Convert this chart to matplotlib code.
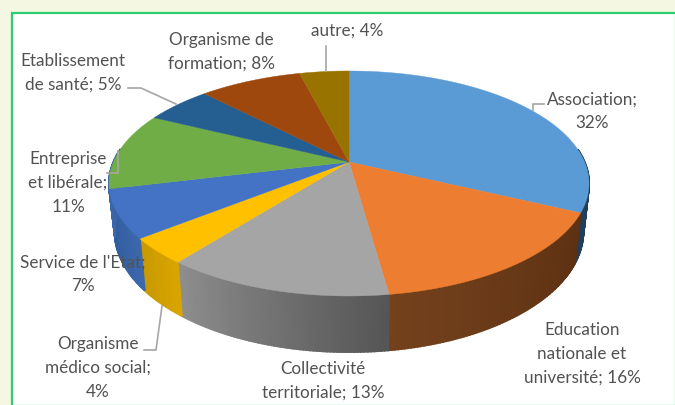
import numpy as np
import matplotlib
matplotlib.use("Agg")
import matplotlib.pyplot as plt
from matplotlib.colors import to_rgb

categories = ["Association", "Education nationale et université", "Collectivité territoriale",
              "Organisme médico social", "Service de l'Etat", "Entreprise et libérale",
              "Etablissement de santé", "Organisme de formation", "autre"]
values = [32.1, 15.7, 12.8, 3.7, 6.9, 11.1, 5.4, 8.3, 4.0]
top_colors = ["#5B9BD5", "#ED7D31", "#A5A5A5", "#FFC000", "#4472C4", "#70AD47", "#255E91", "#9E480E", "#997300"]
# wall colours: at the start and end of each wedge (clockwise)
wall_start = ["#1F3F5C", "#5C3012", "#555555", "#D9A500", "#3C68AC", "#3C68AC", "#255E91", "#9E480E", "#997300"]
wall_end = ["#1F3F5C", "#74411C", "#8E8E8E", "#C89A00", "#2F5A9C", "#2F5A9C", "#255E91", "#9E480E", "#997300"]

labels = ["Association;\n32%", "Education\nnationale et\nuniversité; 16%", "Collectivité\nterritoriale; 13%",
          "Organisme\nmédico social;\n4%", "Service de l'Etat;\n7%", "Entreprise\net libérale;\n11%",
          "Etablissement\nde santé; 5%", "Organisme de\nformation; 8%", "autre; 4%"]
label_pos = [(592, 111), (582, 354), (323, 381), (98, 368), (83, 274), (68, 183), (73, 73), (221, 52), (347, 31)]
leaders = [[(544, 104), (533, 104), (533, 110)],
           [(144, 350), (156, 350), (162, 306)],
           [(107, 173), (118, 173), (118, 151)],
           [(128, 88), (141, 88), (176, 104)],
           [(326, 46), (326, 71)]]

# perspective projection of the unit circle
CX, CY = 349, 162
A, B, C = 235.6, 108.4, 0.191
SX, SY, DY = 0.976, 1.07, 46.6


def project(theta, bottom=False):
    u, v = np.sin(theta), np.cos(theta)
    d = 1 + C * v
    x, y = A * u / d, B * v / d
    if bottom:
        return CX + SX * x, CY - SY * y + DY
    return CX + x, CY - y


fig = plt.figure(figsize=(6.75, 4.05), dpi=100, facecolor="#F4F8E3")
ax = fig.add_axes([0, 0, 1, 1])
ax.set_xlim(0, 675)
ax.set_ylim(405, 0)
ax.axis("off")
plt.rcParams["font.family"] = ["Lato", "DejaVu Sans"]

# panel
ax.fill([11.5, 676, 676, 11.5], [13, 13, 406, 406], facecolor="white", edgecolor="#2ECC71", linewidth=1.6, zorder=0)

fractions = np.cumsum([0] + values) / sum(values)
angles = fractions * 2 * np.pi

# side walls, drawn as overlapping strips so that no seams show
for i in range(len(values)):
    t0, t1 = angles[i], angles[i + 1]
    n = max(2, int((t1 - t0) / 0.012))
    ts = np.linspace(t0, t1, n + 1)
    c0, c1 = np.array(to_rgb(wall_start[i])), np.array(to_rgb(wall_end[i]))
    for j in range(n):
        a, b = ts[j], ts[j + 1]
        if np.cos((a + b) / 2) > 0.12:
            continue
        f = (j + 0.5) / n
        col = c0 + (c1 - c0) * f
        x0, y0 = project(a)
        x1, y1 = project(b)
        x2, y2 = project(b, True)
        x3, y3 = project(a, True)
        ax.fill([x0, x1, x2, x3], [y0, y1, y2, y3], facecolor=col, edgecolor=col, linewidth=1.4, zorder=1 + i * 0.01)

# top face
for i in range(len(values)):
    ts = np.linspace(angles[i], angles[i + 1], 80)
    x, y = project(ts)
    ax.fill(np.r_[CX, x], np.r_[CY, y], facecolor=top_colors[i], edgecolor=top_colors[i], linewidth=0.3, zorder=2)

for pts in leaders:
    xs, ys = zip(*pts)
    ax.plot(xs, ys, color="#A6A6A6", linewidth=1.2, zorder=3, solid_joinstyle="miter")

for text, (x, y) in zip(labels, label_pos):
    ax.text(x, y, text, ha="center", va="center", multialignment="center", fontsize=12.3,
            color="#525252", linespacing=1.58, zorder=4)

fig.savefig("out.png", dpi=100, facecolor=fig.get_facecolor())
